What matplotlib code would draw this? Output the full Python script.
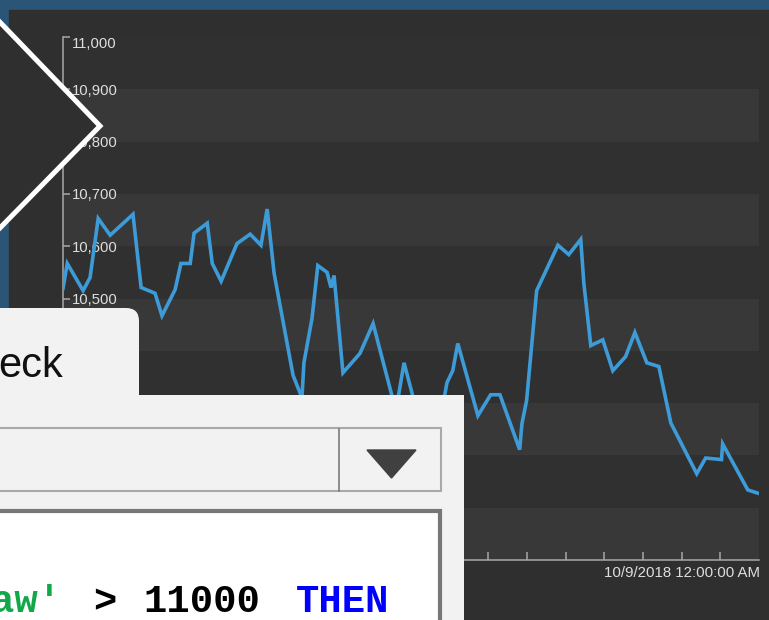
import matplotlib.pyplot as plt
from matplotlib.patches import Rectangle, Polygon, FancyBboxPatch

# hours relative to 10/9/2018 12:00 AM, and the reading at each point
hours = [-16.0, -15.89, -15.48, -15.30, -15.09, -14.78, -14.19, -13.98, -13.62, -13.44,
         -13.10, -12.95, -12.71, -12.61, -12.27, -12.14, -11.91, -11.50, -11.16, -10.88,
         -10.72, -10.54, -10.05, -9.82, -9.77, -9.56, -9.41, -9.17, -9.07, -8.99,
         -8.76, -8.32, -7.98, -7.39, -7.18, -6.82, -6.51, -6.25, -6.07, -5.92,
         -5.79, -5.27, -4.94, -4.70, -4.19, -4.13, -4.01, -3.75, -3.20, -2.92,
         -2.61, -2.53, -2.35, -2.04, -1.78, -1.45, -1.21, -0.90, -0.59, -0.28,
         0.39, 0.62, 1.03, 1.06, 1.71, 1.96]
values = [10519, 10567, 10515, 10540, 10653, 10621, 10661, 10521, 10510, 10467,
          10517, 10567, 10567, 10625, 10644, 10567, 10533, 10605, 10623, 10602,
          10671, 10548, 10353, 10310, 10377, 10462, 10563, 10550, 10521, 10544,
          10358, 10395, 10452, 10285, 10377, 10276, 10295, 10266, 10339, 10362,
          10414, 10276, 10316, 10316, 10211, 10261, 10305, 10515, 10602, 10584,
          10613, 10529, 10410, 10421, 10362, 10389, 10435, 10377, 10370, 10262,
          10165, 10195, 10192, 10222, 10134, 10128]

y_ticks = list(range(10000, 11001, 100))
x_ticks = list(range(-15, 2))
x_tick_text = {0: "10/9/2018 12:00:00 AM"}

tab_text = "eck"
code_parts = [("aw'", 0, '#12a84a'), (">", 4, '#000000'), ("11000", 6, '#000000'), ("THEN", 12, '#0000ff')]

W, H = 769, 620
fig = plt.figure(figsize=(W / 100, H / 100), dpi=100)

# screen background and chart container
bg = fig.add_axes([0, 0, 1, 1], zorder=0)
bg.set_xlim(0, W)
bg.set_ylim(H, 0)
bg.axis('off')
bg.add_patch(Rectangle((0, 0), W, H, color='#2b5577'))
bg.add_patch(Rectangle((9, 10), W, H, color='#2f2f2f'))

# the chart
ax = fig.add_axes([63 / W, 60 / H, 696 / W, 523 / H], zorder=1)
ax.set_facecolor('#303030')
for lo in y_ticks[:-1:2]:
    ax.axhspan(lo, lo + 100, color='#383838', lw=0)
ax.plot(hours, values, color='#3d9bd8', lw=2.6, solid_joinstyle='miter', zorder=3)
ax.set_xlim(-16, 2)
ax.set_ylim(10000, 11000)

ax.set_yticks(y_ticks)
ax.set_yticklabels([f"{v:,}" for v in y_ticks])
ax.set_xticks(x_ticks)
ax.set_xticklabels([x_tick_text.get(t, '') for t in x_ticks])
ax.tick_params(axis='y', direction='in', length=5, width=1.1, color='#a8a8a8',
               labelcolor='#dedede', labelsize=10.7, pad=-6.5)
ax.tick_params(axis='x', direction='in', length=6, width=1.1, color='#a8a8a8',
               labelcolor='#dedede', labelsize=10.8, pad=4)
for lbl in ax.get_yticklabels():
    lbl.set_ha('left')
    lbl.set_family('Liberation Sans')
ax.get_yticklabels()[-1].set_va('top')
for lbl in ax.get_xticklabels():
    lbl.set_family('Liberation Sans')
for side in ['top', 'right']:
    ax.spines[side].set_visible(False)
for side in ['left', 'bottom']:
    ax.spines[side].set_color('#a8a8a8')
    ax.spines[side].set_linewidth(1.1)

# overlay: chevron, tab panel, dropdown, code box
ov = fig.add_axes([0, 0, 1, 1], zorder=3)
ov.set_xlim(0, W)
ov.set_ylim(H, 0)
ov.axis('off')
ov.patch.set_alpha(0)

ov.add_patch(Polygon([(-6, 16), (100, 126), (-6, 234)], closed=True, facecolor='#2f2f2f',
                     edgecolor='white', lw=3.6, joinstyle='miter'))

ov.add_patch(FancyBboxPatch((-30, 308), 169, 120, boxstyle='round,pad=0,rounding_size=13',
                            facecolor='#f2f2f2', edgecolor='none'))
ov.add_patch(Rectangle((-5, 395), 469, 240, facecolor='#f2f2f2', edgecolor='none'))
ov.text(63, 377, tab_text, ha='right', va='baseline', fontsize=30,
        family='Liberation Sans', color='#111111')

ov.add_patch(Rectangle((-5, 428), 446, 63, facecolor='#f2f2f2', edgecolor='#a9a9a9', lw=1.5))
ov.plot([339, 339], [429, 491], color='#7a7a7a', lw=1.2)
ov.add_patch(Polygon([(367, 450), (416, 450), (391.5, 478)], closed=True, color='#404040'))

ov.add_patch(Rectangle((-5, 511), 444.5, 130, facecolor='white', edgecolor='#777777', lw=3))

adv = 0.6 * 30.5 * 100 / 72
for txt, col, colr in code_parts:
    ov.text(-9 + col * adv, 612, txt, ha='left', va='baseline', fontsize=28,
            family='Liberation Mono', weight='bold', color=colr)

fig.savefig('out.png', dpi=100)
